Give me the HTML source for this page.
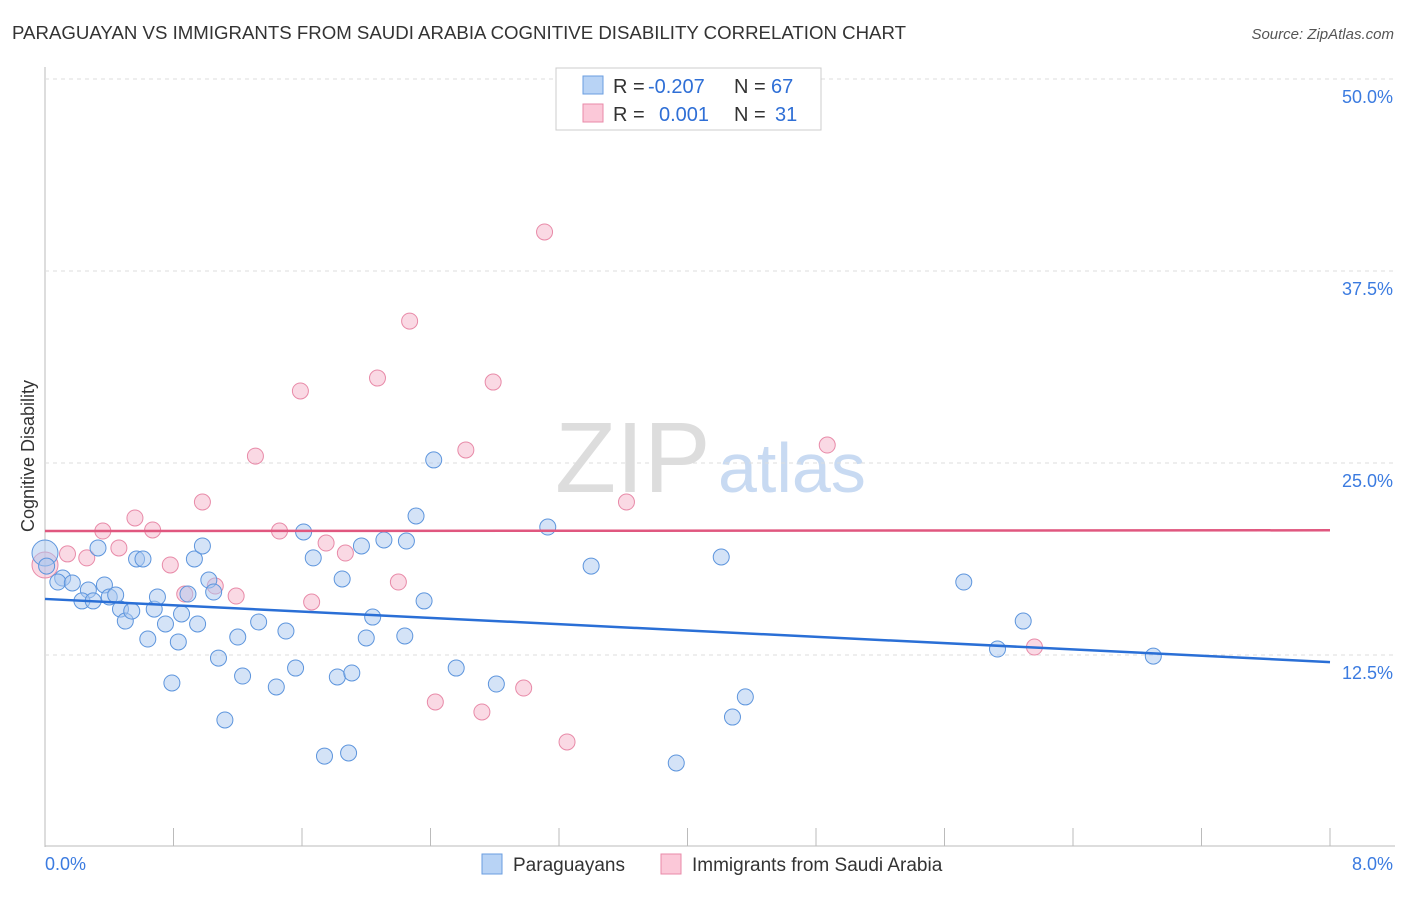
<!DOCTYPE html>
<html><head><meta charset="utf-8"><style>
body{margin:0;background:#fff;font-family:"Liberation Sans",sans-serif}
svg text{font-family:"Liberation Sans",sans-serif}
</style></head><body>
<svg id="c" width="1406" height="892">
<text x="12" y="39" font-size="18" fill="#333" textLength="894" lengthAdjust="spacingAndGlyphs">PARAGUAYAN VS IMMIGRANTS FROM SAUDI ARABIA COGNITIVE DISABILITY CORRELATION CHART</text>
<text x="1394" y="39" font-size="15" fill="#555" font-style="italic" text-anchor="end">Source: ZipAtlas.com</text>
<text x="34" y="456" font-size="18" fill="#333" text-anchor="middle" transform="rotate(-90 34 456)">Cognitive Disability</text>
<text x="555" y="492" font-size="100" fill="#ddd" font-family="Liberation Serif">ZIP</text>
<text x="718" y="492" font-size="70" fill="#c8daf2">atlas</text>
<g id="grid"></g><g id="pts"></g><g id="trend"></g>
<g>
<rect x="556" y="68" width="265" height="62" fill="#fff" stroke="#ccc"/>
<rect x="583" y="76" width="20" height="18" fill="#b8d3f5" stroke="#6a9ee0"/>
<rect x="583" y="104" width="20" height="18" fill="#fbc8d8" stroke="#e88aa8"/>
<text x="613" y="93" font-size="20" fill="#333">R =</text>
<text x="648" y="93" font-size="20" fill="#2f6fd6">-0.207</text>
<text x="734" y="93" font-size="20" fill="#333">N =</text>
<text x="771" y="93" font-size="20" fill="#2f6fd6">67</text>
<text x="613" y="121" font-size="20" fill="#333">R =</text>
<text x="659" y="121" font-size="20" fill="#2f6fd6">0.001</text>
<text x="734" y="121" font-size="20" fill="#333">N =</text>
<text x="775" y="121" font-size="20" fill="#2f6fd6">31</text>
</g>
<g>
<rect x="482" y="854" width="20" height="20" fill="#b8d3f5" stroke="#6a9ee0"/>
<text x="513" y="871" font-size="19" fill="#333">Paraguayans</text>
<rect x="661" y="854" width="20" height="20" fill="#fbc8d8" stroke="#e88aa8"/>
<text x="692" y="871" font-size="19" fill="#333">Immigrants from Saudi Arabia</text>
</g>
</svg>
<script>
const yTicks=[12.5,25,37.5,50];
const yTickLabels=["12.5%","25.0%","37.5%","50.0%"];
const xTickLabels=["0.0%","8.0%"];
const blueX=[0,0.01,0.11,0.08,0.17,0.27,0.33,0.37,0.23,0.30,0.40,0.44,0.47,0.50,0.54,0.57,0.61,0.64,0.68,0.70,0.75,0.79,0.83,0.85,0.89,0.93,0.95,0.98,1.02,1.05,1.08,1.12,1.20,1.23,1.33,1.44,1.50,1.56,1.61,1.67,1.74,1.82,1.85,1.89,1.91,1.97,2.00,2.04,2.11,2.24,2.25,2.31,2.36,2.42,2.56,2.81,3.13,3.40,3.93,4.21,4.28,4.36,5.72,5.93,6.09,6.90];
const blueY=[19.14,18.29,17.51,17.25,17.19,16.73,19.47,17.06,16.02,16.02,16.28,16.41,15.49,14.71,15.36,18.75,18.75,13.54,15.49,16.28,14.52,10.68,13.35,15.17,16.47,18.75,14.52,19.60,17.38,16.60,12.30,8.27,13.67,11.13,14.65,10.42,14.06,11.65,20.51,18.82,5.92,11.07,17.45,6.12,11.33,19.60,13.61,14.97,19.99,13.74,19.92,21.55,16.02,25.20,11.65,10.61,20.83,18.29,5.47,18.88,8.46,9.77,17.25,12.89,14.71,12.43];
const pinkX=[0,0.14,0.26,0.36,0.46,0.56,0.67,0.78,0.87,0.98,1.06,1.19,1.31,1.46,1.59,1.66,1.75,1.87,2.07,2.20,2.27,2.43,2.62,2.72,2.79,2.98,3.11,3.25,3.62,4.87,6.16];
const pinkY=[18.36,19.08,18.82,20.57,19.47,21.42,20.64,18.36,16.47,22.46,16.99,16.34,25.45,20.57,29.69,15.95,19.79,19.14,30.53,17.25,34.24,9.44,25.85,8.79,30.27,10.35,40.04,6.84,22.46,26.17,13.02];
const blueTrend=[16.15,12.04];
const pinkTrend=[20.57,20.62];
const NS="http://www.w3.org/2000/svg";
const X=v=>45+v/8*1285, Y=v=>847-v/12.5*192;
function mk(t,a,p){const e=document.createElementNS(NS,t);for(const k in a)e.setAttribute(k,a[k]);p.appendChild(e);return e;}
const g=document.getElementById('grid');
const yl=mk('line',{x1:45,x2:45,y1:67,y2:847,stroke:'#bbb'},g);


const xl=mk('line',{x1:45,x2:1395,y1:846,y2:846,stroke:'#bbb'},g);


yTicks.forEach((t,i)=>{
 const l=mk('line',{x1:45,x2:1395,y1:Y(t),y2:Y(t),stroke:'#ddd','stroke-dasharray':'4,4'},g);
 
 
 const tx=mk('text',{x:1393,y:Y(t)+24,'font-size':18,fill:'#3b7be0','text-anchor':'end'},g);
 tx.textContent=yTickLabels[i];
 
 
});
for(let i=0;i<=10;i++){
 const l=mk('line',{x1:X(i*0.8),x2:X(i*0.8),y1:828,y2:846,stroke:'#bbb'},g);
 
 
}
[[0,45,'start'],[1,1393,'end']].forEach(([i,x,a])=>{
 const tx=mk('text',{x:x,y:870,'font-size':18,fill:'#3b7be0','text-anchor':a},g);
 tx.textContent=xTickLabels[i];
 
 
});
const p=document.getElementById('pts');
function pts(xs,ys,fill,stroke,name){xs.forEach((x,i)=>{
 const c=mk('circle',{cx:X(x),cy:Y(ys[i]),r:i==0?13:8,fill:fill,'fill-opacity':0.5,stroke:stroke,'stroke-width':1},p);
 
 
});}
pts(pinkX,pinkY,'#f5b3c9','#e88aa8','saudi-point');
pts(blueX,blueY,'#a9c8f0','#5d95dd','paraguayan-point');
const tr=document.getElementById('trend');
const bt=mk('line',{x1:X(0),x2:X(8),y1:Y(blueTrend[0]),y2:Y(blueTrend[1]),stroke:'#2a6fd6','stroke-width':2.5},tr);


const pt=mk('line',{x1:X(0),x2:X(8),y1:Y(pinkTrend[0]),y2:Y(pinkTrend[1]),stroke:'#e0577f','stroke-width':2.5},tr);


</script>
</body></html>
